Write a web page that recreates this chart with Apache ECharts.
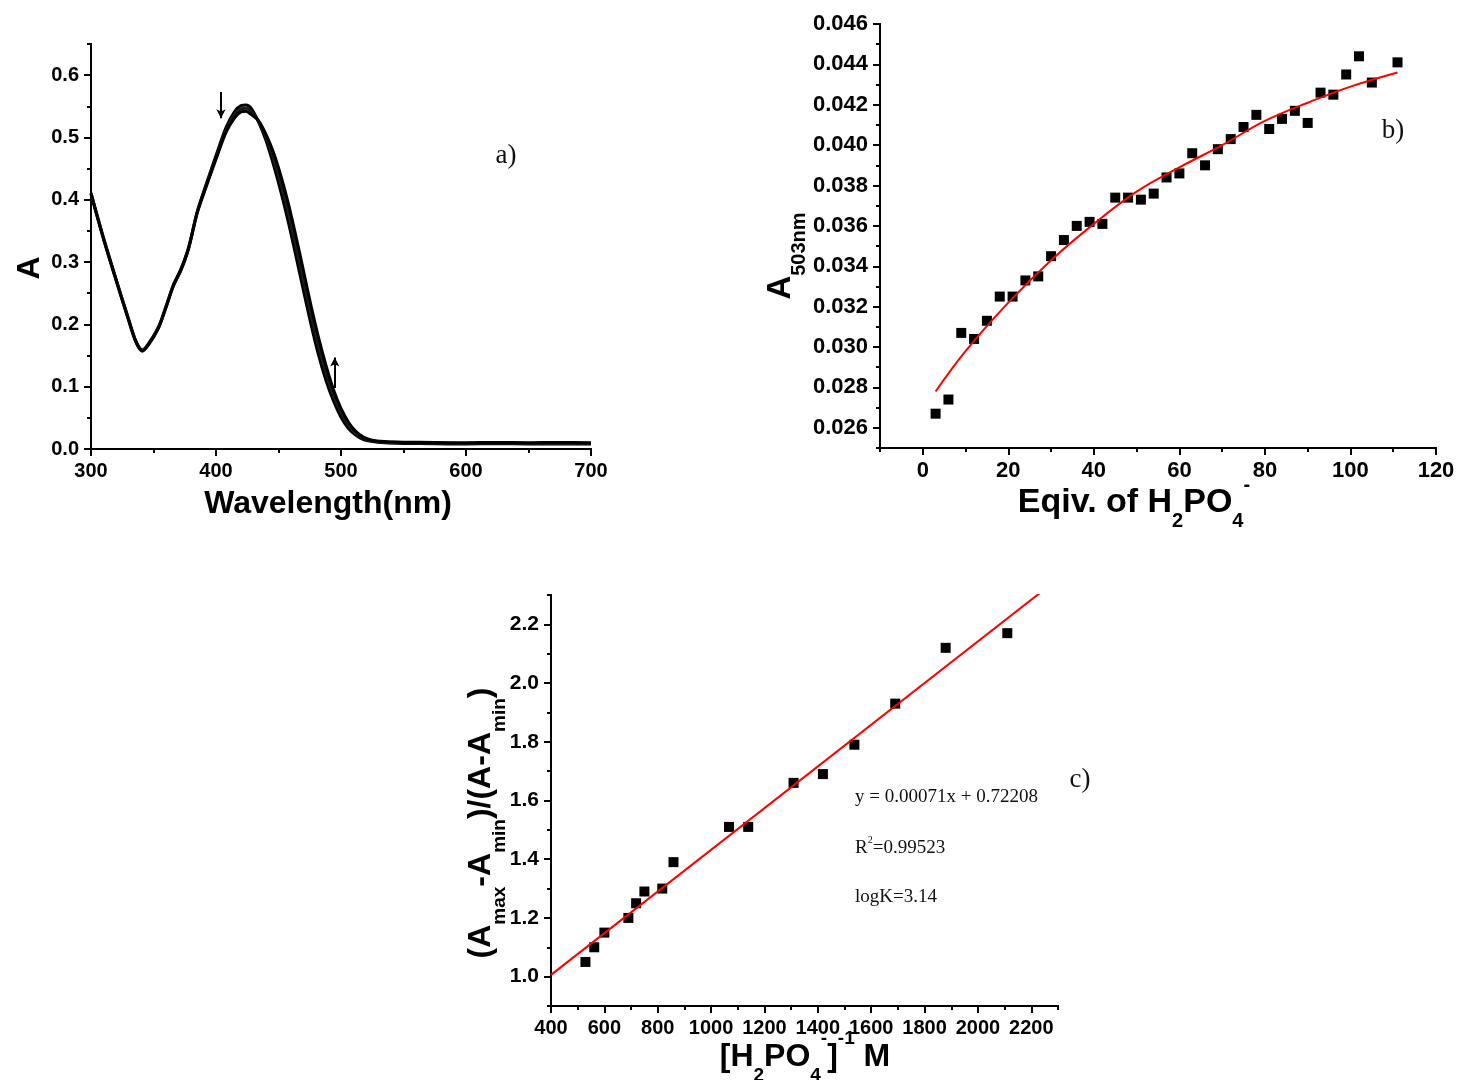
<!DOCTYPE html>
<html>
<head>
<meta charset="utf-8">
<script src="https://cdn.jsdelivr.net/npm/echarts@6/dist/echarts.min.js"></script>
<style>
  html, body { margin: 0; padding: 0; background: #fff; }
  #chart { width: 1458px; height: 1080px; }
</style>
</head>
<body>
<div id="chart"></div>
<script>
// ---------- (a) absorption spectra during the titration ----------
const wavelengths = [300,310,320,330,336,341,346,354,360,366,372,378,385,392,400,408,415,420,424,428,
  434,440,446,452,458,464,470,476,482,488,494,500,506,512,518,525,535,550,575,600,625,650,675,700];
const absFirst = [0.411,0.339,0.273,0.209,0.173,0.159,0.169,0.196,0.229,0.264,0.289,0.323,0.381,0.424,0.471,0.516,0.542,0.551,0.552,0.547,
  0.525,0.495,0.456,0.412,0.363,0.309,0.254,0.200,0.151,0.110,0.077,0.051,0.033,0.022,0.015,0.012,0.010,0.009,0.0085,0.008,0.0085,0.008,0.008,0.008];
const absMid = [0.410,0.338,0.272,0.208,0.172,0.158,0.168,0.195,0.228,0.263,0.288,0.322,0.380,0.422,0.468,0.512,0.537,0.546,0.547,0.542,
  0.526,0.500,0.466,0.425,0.378,0.325,0.270,0.215,0.165,0.122,0.086,0.058,0.038,0.025,0.017,0.013,0.011,0.010,0.0095,0.009,0.0095,0.009,0.009,0.009];
const absLast = [0.409,0.337,0.271,0.207,0.171,0.157,0.167,0.194,0.227,0.262,0.287,0.321,0.379,0.420,0.465,0.508,0.532,0.541,0.542,0.537,
  0.527,0.505,0.476,0.438,0.393,0.341,0.286,0.230,0.179,0.134,0.095,0.065,0.043,0.028,0.019,0.014,0.012,0.011,0.0105,0.010,0.0105,0.010,0.0105,0.010];
const specXTicks = [300,400,500,600,700];
const specXMinor = [350,450,550,650];
const specYTicks = [0,0.1,0.2,0.3,0.4,0.5,0.6];
const specYMinor = [0.05,0.15,0.25,0.35,0.45,0.55,0.65];
// direction arrows: [wavelength, from A, to A]
const arrowDecrease = [404, 0.573, 0.531];
const arrowIncrease = [495, 0.098, 0.147];

// ---------- (b) absorbance at 503 nm vs equivalents ----------
const equiv = [3,6,9,12,15,18,21,24,27,30,33,36,39,42,45,48,51,54,57,60,63,66,69,72,75,78,81,84,87,90,93,96,99,102,105,111];
const a503 = [0.0267,0.0274,0.0307,0.0304,0.0313,0.0325,0.0325,0.0333,0.0335,0.0345,0.0353,0.0360,0.0362,0.0361,0.0374,0.0374,0.0373,0.0376,
  0.0384,0.0386,0.0396,0.0390,0.0398,0.0403,0.0409,0.0415,0.0408,0.0413,0.0417,0.0411,0.0426,0.0425,0.0435,0.0444,0.0431,0.0441];
const fitEquiv = [3,10,20,30,40,50,60,70,80,90,100,111];
const fitA503 = [0.0278,0.0298,0.0322,0.0343,0.0361,0.0377,0.0389,0.0400,0.0412,0.0421,0.0429,0.0436];
const eqXTicks = [0,20,40,60,80,100,120];
const eqXMinor = [-10,10,30,50,70,90,110];
const a503Ticks = [0.026,0.028,0.030,0.032,0.034,0.036,0.038,0.040,0.042,0.044,0.046];
const a503Minor = [0.025,0.027,0.029,0.031,0.033,0.035,0.037,0.039,0.041,0.043,0.045];

// ---------- (c) double reciprocal (Benesi-Hildebrand) plot ----------
const invConc = [529,562,600,690,719,750,817,859,1067,1139,1309,1419,1537,1690,1879,2110];
const ratio = [1.05,1.10,1.15,1.20,1.25,1.29,1.30,1.39,1.51,1.51,1.66,1.69,1.79,1.93,2.12,2.17];
const fitSlope = 0.00071;
const fitIntercept = 0.72208;
const rSquared = '0.99523';
const logK = '3.14';
const invXTicks = [400,600,800,1000,1200,1400,1600,1800,2000,2200];
const invXMinor = [500,700,900,1100,1300,1500,1700,1900,2100,2300];
const ratioTicks = [1.0,1.2,1.4,1.6,1.8,2.0,2.2];
const ratioMinor = [0.9,1.1,1.3,1.5,1.7,1.9,2.1,2.3];

const SANS = 'Liberation Sans, Arial, sans-serif';
const SERIF = 'Liberation Serif, Times New Roman, serif';

// Each axis is drawn twice on the same spot: one carries the labelled
// (long) ticks, the other the short intermediate ticks.
function axisPair(grid, min, max, major, minor, fmt, isX, fontSize) {
  const line = { show: true, onZero: false, lineStyle: { color: '#000', width: 2 } };
  const base = {
    type: 'value', gridIndex: grid, min: min, max: max,
    position: isX ? 'bottom' : 'left', offset: 0,
    splitLine: { show: false }
  };
  return [
    Object.assign({}, base, {
      axisLine: line,
      axisTick: { show: true, customValues: major, length: 7, lineStyle: { color: '#000', width: 2 } },
      axisLabel: {
        show: true, customValues: major, formatter: fmt, margin: 12,
        color: '#000', fontFamily: SANS, fontWeight: 'bold', fontSize: fontSize
      }
    }),
    Object.assign({}, base, {
      axisLine: line,
      axisTick: { show: true, customValues: minor, length: 4, lineStyle: { color: '#000', width: 2 } },
      axisLabel: { show: false }
    })
  ];
}

const fixed = d => v => v.toFixed(d);

const xAxes = [].concat(
  axisPair(0, 300, 700, specXTicks, specXMinor, fixed(0), true, 20),
  axisPair(1, -10, 120, eqXTicks, eqXMinor, fixed(0), true, 22),
  axisPair(2, 400, 2300, invXTicks, invXMinor, fixed(0), true, 20)
);
const yAxes = [].concat(
  axisPair(0, 0, 0.65, specYTicks, specYMinor, fixed(1), false, 20),
  axisPair(1, 0.025, 0.046, a503Ticks, a503Minor, fixed(3), false, 22),
  axisPair(2, 0.9, 2.3, ratioTicks, ratioMinor, fixed(1), false, 21)
);

const zip = (xs, ys) => xs.map((x, i) => [x, ys[i]]);

const spectrum = (vals, color) => ({
  type: 'line', xAxisIndex: 0, yAxisIndex: 0,
  data: zip(wavelengths, vals), showSymbol: false, smooth: 0.3,
  lineStyle: { color: color, width: 3 }, silent: true, animation: false
});

const arrowLine = (a) => [{ coord: [a[0], a[1]] }, { coord: [a[0], a[2]] }];

// straight fit line over the full x range of (c); the grid clips it at the top
const linePts = [invXTicks[0], invXMinor[invXMinor.length - 1]]
  .map(x => [x, fitSlope * x + fitIntercept]);

// rich text styles for axis titles
function titleRich(size, subSize) {
  return {
    m: { fontFamily: SANS, fontWeight: 'bold', fontSize: size, lineHeight: 56, verticalAlign: 'middle', fill: '#000' },
    s: { fontFamily: SANS, fontWeight: 'bold', fontSize: subSize, lineHeight: 20, verticalAlign: 'bottom', fill: '#000' },
    p: { fontFamily: SANS, fontWeight: 'bold', fontSize: subSize, lineHeight: 30, verticalAlign: 'top', fill: '#000' }
  };
}

function title(text, x, y, rotate, size, subSize) {
  return {
    type: 'text', x: x, y: y, rotation: rotate ? Math.PI / 2 : 0, silent: true,
    style: {
      text: text, rich: titleRich(size || 32, subSize || 19),
      align: 'center', verticalAlign: 'middle'
    }
  };
}

function note(text, x, y, size, align) {
  return {
    type: 'text', x: x, y: y, silent: true,
    style: {
      text: text, align: align || 'left', verticalAlign: 'middle',
      rich: {
        t: { fontFamily: SERIF, fontSize: size, lineHeight: 26, verticalAlign: 'middle', fill: '#111' },
        u: { fontFamily: SERIF, fontSize: Math.round(size * 0.55), lineHeight: 14, verticalAlign: 'top', fill: '#111' }
      }
    }
  };
}

const eqText = 'y = ' + fitSlope.toFixed(5) + 'x + ' + fitIntercept.toFixed(5);

const option = {
  backgroundColor: '#fff',
  animation: false,
  grid: [
    { left: 91, top: 44, width: 500, height: 405, outerBoundsMode: 'none' },
    { left: 880, top: 24, width: 556, height: 424, outerBoundsMode: 'none' },
    { left: 551, top: 595, width: 507, height: 411, outerBoundsMode: 'none' }
  ],
  xAxis: xAxes,
  yAxis: yAxes,
  series: [
    spectrum(absFirst, '#000'),
    spectrum(absMid, '#1a1a1a'),
    Object.assign(spectrum(absLast, '#000'), {
      markLine: {
        silent: true, symbol: ['none', 'arrow'], symbolSize: [7, 9],
        label: { show: false },
        lineStyle: { color: '#000', width: 2, type: 'solid' },
        data: [arrowLine(arrowDecrease), arrowLine(arrowIncrease)]
      }
    }),
    {
      type: 'scatter', xAxisIndex: 2, yAxisIndex: 2,
      data: zip(equiv, a503), symbol: 'rect', symbolSize: 10,
      itemStyle: { color: '#000', opacity: 1 }, silent: true
    },
    {
      type: 'line', xAxisIndex: 2, yAxisIndex: 2,
      data: zip(fitEquiv, fitA503), showSymbol: false, smooth: 0.4,
      lineStyle: { color: '#ff0000', width: 2 }, silent: true
    },
    {
      type: 'scatter', xAxisIndex: 4, yAxisIndex: 4,
      data: zip(invConc, ratio), symbol: 'rect', symbolSize: 10,
      itemStyle: { color: '#000', opacity: 1 }, silent: true
    },
    {
      type: 'line', xAxisIndex: 4, yAxisIndex: 4, clip: true,
      data: linePts, showSymbol: false,
      lineStyle: { color: '#ff0000', width: 2 }, silent: true
    }
  ],
  graphic: [
    // (a)
    title('{m|A}', 30, 268, true),
    title('{m|Wavelength(nm)}', 328, 504, false),
    note('{t|a)}', 506, 156, 27, 'center'),
    // (b)
    title('{m|A}{s|503nm}', 781, 256, true, 33, 20),
    title('{m|Eqiv. of H}{s|2}{m|PO}{s|4}{p|-}', 1134, 503, false, 34, 20),
    note('{t|b)}', 1393, 131, 27, 'center'),
    // (c)
    title('{m|(A}{s|max}{m|-A}{s|min}{m|)/(A-A}{s|min}{m|)}', 481, 823, true),
    title('{m|[H}{s|2}{m|PO}{s|4}{p|-}{m|]}{p|-1}{m| M}', 805, 1057, false),
    note('{t|c)}', 1080, 780, 27, 'center'),
    note('{t|' + eqText + '}', 855, 797, 19),
    note('{t|R}{u|2}{t|=' + rSquared + '}', 855, 848, 19),
    note('{t|logK=' + logK + '}', 855, 897, 19)
  ]
};

const chart = echarts.init(document.getElementById('chart'), null, { renderer: 'canvas' });
chart.setOption(option);
</script>
</body>
</html>
